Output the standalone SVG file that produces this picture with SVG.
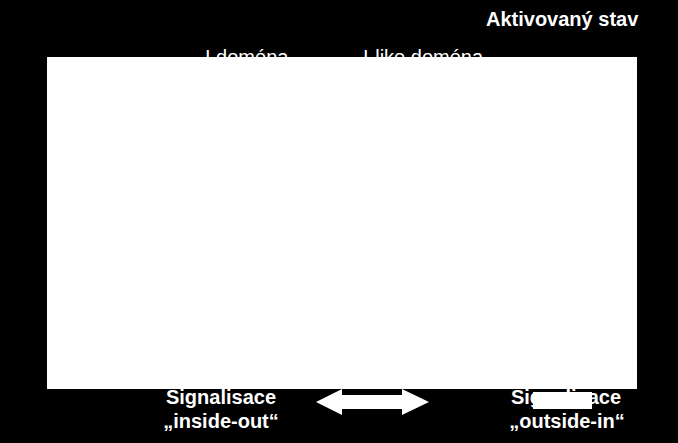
<svg xmlns="http://www.w3.org/2000/svg" width="678" height="443" viewBox="0 0 678 443">
<style>
.t{font-family:"Liberation Sans",Arial,sans-serif;fill:#fff;font-size:20px}
.b{font-weight:bold}
</style>
<rect x="0" y="0" width="678" height="443" fill="#000"/>
<g id="title"><text class="t b" x="486" y="26" font-size="20.5">Aktivovaný stav</text></g>
<g id="i-domena"><text class="t" x="205" y="64">I doména</text></g>
<g id="i-like-domena"><text class="t" x="363" y="64">I-like doména</text></g>
<g id="inside-out"><text class="t b" text-anchor="middle" x="221" y="404">Signalisace</text><text class="t b" text-anchor="middle" x="221" y="428">„inside-out“</text></g>
<g id="outside-in"><text class="t b" text-anchor="middle" x="566" y="404">Signalisace</text><text class="t b" text-anchor="middle" x="567" y="428">„outside-in“</text></g>
<g id="connectors"><polygon fill="#fff" points="316,402 342,389 342,395 402,395 402,389 429,402 402,415 402,409 342,409 342,415"/></g>
<g id="panel"><rect x="47" y="57" width="590" height="332" fill="#fff"/></g>
<g id="cover"><rect x="533" y="392" width="59" height="17" fill="#fff"/></g>
</svg>
